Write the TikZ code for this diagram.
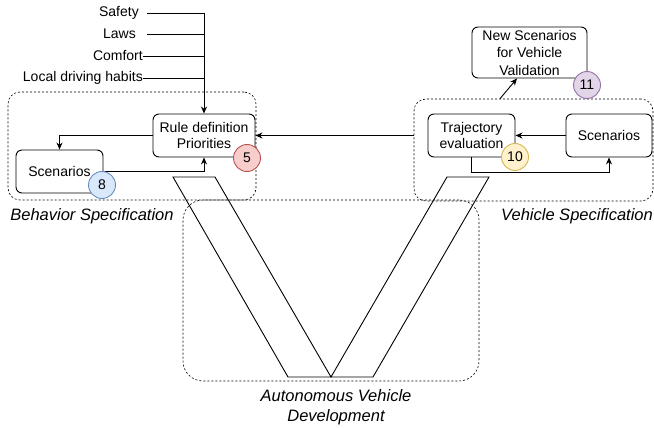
\documentclass[tikz,border=0pt]{standalone}
\usepackage{fontspec}
\setmainfont{Liberation Sans}
\usetikzlibrary{arrows.meta}
\definecolor{redF}{HTML}{F8CECC}\definecolor{redS}{HTML}{B85450}
\definecolor{bluF}{HTML}{DAE8FC}\definecolor{bluS}{HTML}{6C8EBF}
\definecolor{yelF}{HTML}{FFF2CC}\definecolor{yelS}{HTML}{D6B656}
\definecolor{purF}{HTML}{E1D5E7}\definecolor{purS}{HTML}{9673A6}
\begin{document}
\begin{tikzpicture}[x=1pt,y=-1pt,
  every node/.style={font=\fontsize{14}{16}\selectfont},
  box/.style={draw,line width=0.9pt,rounded corners=6pt,align=center,inner sep=1pt},
  cont/.style={draw,line width=0.6pt,dash pattern=on 2pt off 2pt,rounded corners=#1},
  badge/.style={circle,draw=#1,line width=0.9pt,minimum size=27pt,inner sep=0pt},
  lab/.style={font=\fontsize{16.5}{20}\selectfont\itshape,align=center},
  txt/.style={anchor=east,inner sep=0pt},
  arr/.style={line width=0.9pt,-{Stealth[length=7pt,width=6pt]}},
  ln/.style={line width=0.9pt}]
\useasboundingbox (0,0) rectangle (654,428);
% containers
\node[cont=12pt,minimum width=248pt,minimum height=108pt] (leftC) at (132,146) {};
\node[cont=12pt,minimum width=239pt,minimum height=102pt] (rightC) at (533.5,150) {};
\node[cont=20pt,minimum width=296pt,minimum height=181pt] (botC) at (331,290.5) {};
% V shape
\draw[line width=0.9pt,line join=miter] (173,177) -- (215,177) -- (331,377) -- (447,177) -- (489,177) -- (373,377) -- (288,377) -- cycle;
% inputs
\node[txt] (safety) at (139,13) {Safety};
\node[txt] (laws) at (136,34) {Laws};
\node[txt] (comfort) at (143,56) {Comfort};
\node[txt] (habits) at (143,78) {Local driving habits};
\coordinate (j) at (204,13);
% boxes
\node[box,minimum width=102pt,minimum height=43pt] (rule) at (204,135.5) {Rule definition\\Priorities};
\node[box,minimum width=87pt,minimum height=43pt] (scenL) at (59.5,171.5) {Scenarios};
\node[box,minimum width=115pt,minimum height=51pt,font=\fontsize{14}{17.5}\selectfont] (newsc) at (529.5,52.5) {New Scenarios\\for Vehicle\\Validation};
\node[box,minimum width=87pt,minimum height=43pt] (traj) at (471.5,135.5) {Trajectory\\evaluation};
\node[box,minimum width=86pt,minimum height=43pt] (scenR) at (609,135.5) {Scenarios};
% connectors
\draw[ln] ([xshift=8pt]safety.east) -- (j);
\draw[ln] ([xshift=11pt]laws.east) -- (laws.east -| j);
\draw[ln] (comfort.east) -- (comfort.east -| j);
\draw[ln] (habits.east) -- (habits.east -| j);
\draw[arr] (j) -- (rule.north);
\draw[arr] (rule.west) -| (scenL.north);
\draw[arr] (scenL.east) -| (rule.south);
\draw[arr] (rightC.west |- rule.east) -- (rule.east);
\draw[arr] (scenR.west) -- (traj.east);
\draw[arr] (traj.south) -- ++(0,15) -| (scenR.south);
\draw[arr] ([xshift=-33.5pt]rightC.north) -- ([xshift=-12.5pt]newsc.south);
% badges
\node[badge=redS,fill=redF] (c5) at (247,158) {5};
\node[badge=bluS,fill=bluF] (c8) at (102,185) {8};
\node[badge=yelS,fill=yelF] (c10) at (515,157) {10};
\node[badge=purS,fill=purF] (c11) at (587,85) {11};
% labels
\node[lab] (lb1) at (92,216) {Behavior Specification};
\node[lab] (lb2) at (577,216) {Vehicle Specification};
\node[lab] (lb3) at (336,407) {Autonomous Vehicle\\Development};
\end{tikzpicture}
\end{document}
